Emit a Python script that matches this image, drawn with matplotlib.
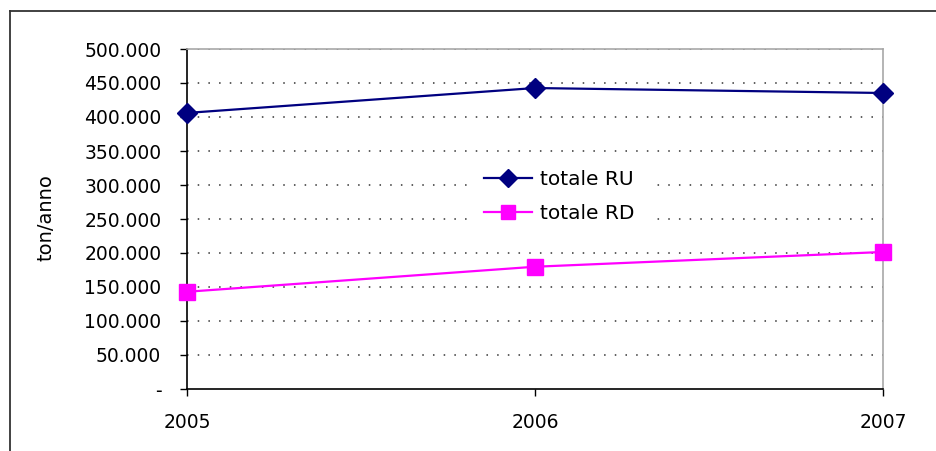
import numpy as np
import matplotlib.pyplot as plt
from matplotlib.lines import Line2D
from matplotlib.ticker import FuncFormatter

years = [2005, 2006, 2007]
totale_ru = [406000, 442600, 435300]
totale_rd = [143000, 179800, 201500]
y_ticks = [0, 50000, 100000, 150000, 200000, 250000, 300000, 350000, 400000, 450000, 500000]


def it_thousands(v, pos):
    # zero shown as a dash, thousands separated by a dot
    if v == 0:
        return '-'
    return f'{int(v):,}'.replace(',', '.')


W, H = 937, 451
fig = plt.figure(figsize=(W/100, H/100), dpi=100)
ax = fig.add_axes([187/W, 1-389/H, (883-187)/W, (389-49)/H])

ax.plot(years, totale_ru, color='#000080', lw=1.6, marker='D', ms=10.5,
        label='totale RU', clip_on=False, zorder=4)
ax.plot(years, totale_rd, color='#ff00ff', lw=1.6, marker='s', ms=11,
        label='totale RD', clip_on=False, zorder=4)

ax.set_xlim(2005, 2007)
ax.set_ylim(0, 500000)
ax.set_xticks(years)
ax.set_yticks(y_ticks)
ax.yaxis.set_major_formatter(FuncFormatter(it_thousands))

for y in y_ticks[1:]:
    ax.axhline(y, color='#333333', lw=1.1, linestyle=(0, (1, 6)), zorder=1)

for s in ['left', 'bottom']:
    ax.spines[s].set_color('black')
    ax.spines[s].set_linewidth(1.2)
for s in ['top', 'right']:
    ax.spines[s].set_color('#a8a8a8')
    ax.spines[s].set_linewidth(1.2)

ax.tick_params(axis='y', direction='out', length=5, width=1, pad=13.5, labelsize=13.5)
ax.tick_params(axis='x', direction='out', length=5, width=1, pad=12, labelsize=13.5)

fig.text(46/W, 1-218/H, 'ton/anno', rotation=90, ha='center', va='center', fontsize=14)

# white box behind the legend hides the gridlines
leg = ax.legend(loc='upper left', bbox_to_anchor=(470/W, 1-156/H),
                bbox_transform=fig.transFigure, frameon=True, fancybox=False,
                facecolor='white', edgecolor='none', framealpha=1, fontsize=14.5,
                borderpad=0.7, borderaxespad=0, handlelength=2.4, handletextpad=0.4,
                labelspacing=0.75, markerscale=0.9)

# outer frame around the chart
fig.add_artist(Line2D([10/W, 10/W], [0, 1-11/H], color='#333333', lw=1.3))
fig.add_artist(Line2D([10/W, 1], [1-11/H, 1-11/H], color='#333333', lw=1.3))

fig.savefig('out.png', dpi=100)
